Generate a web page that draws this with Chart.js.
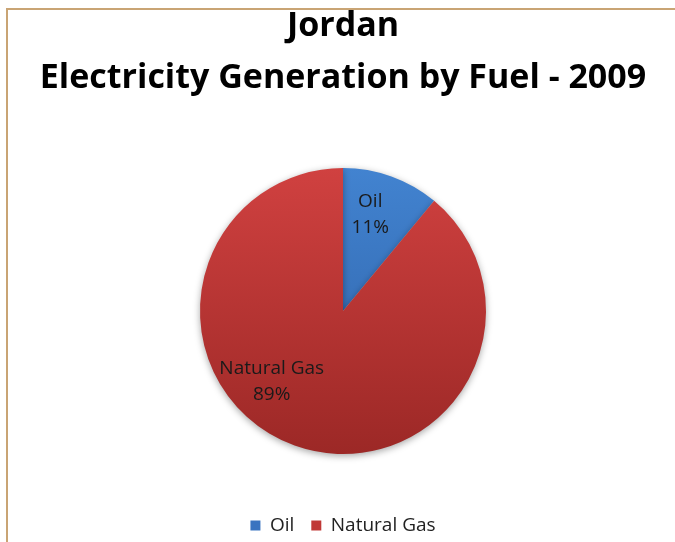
<!DOCTYPE html>
<html>
<head>
<meta charset="utf-8">
<script src="https://cdn.jsdelivr.net/npm/chart.js@4.4.0/dist/chart.umd.min.js"></script>
<style>
  html, body { margin: 0; padding: 0; background: #fff; }
  #wrap { position: relative; width: 675px; height: 542px; }
  #frame {
    position: absolute; left: 6px; top: 8px; right: 0; bottom: 0;
    border-top: 2px solid #c9a474; border-left: 2px solid #c9a474;
  }
  canvas { position: absolute; left: 0; top: 0; }
</style>
</head>
<body>
<div id="wrap">
  <div id="frame"></div>
  <canvas id="pieChart" width="675" height="542"></canvas>
</div>
<script>
const titleLines = ["Jordan", "Electricity Generation by Fuel - 2009"];
const fuels = ["Oil", "Natural Gas"];
const shares = [11, 89];

// top / bottom colours of each slice's vertical gradient
const topColors = ["#4283d0", "#d04140"];
const bottomColors = ["#2c5fa4", "#9c2826"];
const legendColors = ["#3a74c0", "#c03836"];

// where each slice's label sits: fraction of the radius, and turn (degrees) from the slice middle
const labelRadius = [0.70, 0.70];
const labelTurn = [-4, 25.6];

const PIE_RADIUS = 143;
const FONT = "'Open Sans', 'Noto Sans', sans-serif";

function sliceFill(context) {
  const chart = context.chart;
  const area = chart.chartArea;
  if (!area || !isFinite(area.top)) return legendColors[context.dataIndex];
  const cy = (area.top + area.bottom) / 2;
  const g = chart.ctx.createLinearGradient(0, cy - PIE_RADIUS, 0, cy + PIE_RADIUS);
  g.addColorStop(0, topColors[context.dataIndex]);
  g.addColorStop(1, bottomColors[context.dataIndex]);
  return g;
}

// soft drop shadow under the pie
const pieShadow = {
  id: "pieShadow",
  beforeDatasetsDraw(chart) {
    const ctx = chart.ctx;
    ctx.save();
    ctx.shadowColor = "rgba(0,0,0,0.35)";
    ctx.shadowBlur = 7;
    ctx.shadowOffsetX = 0;
    ctx.shadowOffsetY = 2;
  },
  afterDatasetsDraw(chart) {
    chart.ctx.restore();
  }
};

// category name and percentage drawn inside each slice
const sliceLabels = {
  id: "sliceLabels",
  afterDatasetsDraw(chart) {
    const ctx = chart.ctx;
    const meta = chart.getDatasetMeta(0);
    const total = shares.reduce((a, b) => a + b, 0);
    ctx.save();
    ctx.fillStyle = "#1a1a1a";
    ctx.font = "19px " + FONT;
    ctx.textAlign = "center";
    ctx.textBaseline = "middle";
    meta.data.forEach((arc, i) => {
      const ang = (arc.startAngle + arc.endAngle) / 2 + labelTurn[i] * Math.PI / 180;
      const r = arc.outerRadius * labelRadius[i];
      const x = arc.x + Math.cos(ang) * r;
      const y = arc.y + Math.sin(ang) * r;
      const pct = Math.round(shares[i] / total * 100) + "%";
      ctx.fillText(fuels[i], x, y - 13);
      ctx.fillText(pct, x, y + 13);
    });
    ctx.restore();
  }
};

new Chart(document.getElementById("pieChart"), {
  type: "pie",
  data: {
    labels: fuels,
    datasets: [{
      data: shares,
      backgroundColor: sliceFill,
      borderWidth: 0,
      radius: PIE_RADIUS
    }]
  },
  options: {
    responsive: false,
    animation: false,
    layout: { padding: { left: 11, right: 0, top: 0, bottom: -3 } },
    plugins: {
      title: {
        display: true,
        text: titleLines,
        color: "#000",
        font: { family: FONT, size: 34, weight: "bold", lineHeight: 1.53 },
        padding: { top: 0, bottom: 19 }
      },
      legend: {
        position: "bottom",
        labels: {
          color: "#222",
          font: { family: FONT, size: 19 },
          boxWidth: 10,
          boxHeight: 10,
          padding: 17,
          generateLabels(chart) {
            return fuels.map((f, i) => ({
              text: f,
              fillStyle: legendColors[i],
              strokeStyle: legendColors[i],
              lineWidth: 0,
              index: i,
              fontColor: "#222"
            }));
          }
        }
      },
      tooltip: { enabled: false }
    }
  },
  plugins: [pieShadow, sliceLabels]
});
</script>
</body>
</html>
